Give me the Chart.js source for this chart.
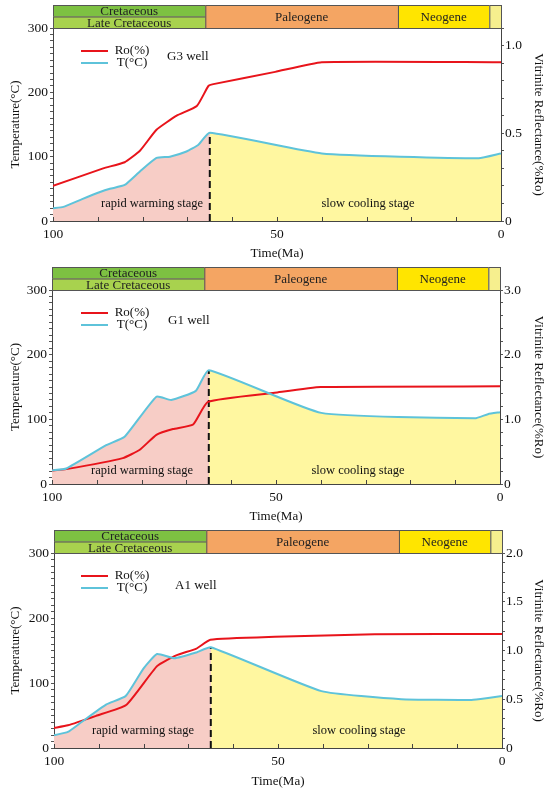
<!DOCTYPE html>
<html>
<head>
<meta charset="utf-8">
<script src="https://cdn.jsdelivr.net/npm/chart.js@4.4.1/dist/chart.umd.min.js"></script>
<style>
  body { margin: 0; background: #fff; }
  .panel { position: absolute; left: 0; width: 550px; }
</style>
</head>
<body>
<div class="panel" style="top:0px"><canvas id="g3" width="550" height="262"></canvas></div>
<div class="panel" style="top:260px"><canvas id="g1" width="550" height="265"></canvas></div>
<div class="panel" style="top:525px"><canvas id="a1" width="550" height="268"></canvas></div>
<script>
// geological time scale along the top (Ma)
const periodNames = ['Cretaceous', 'Late Cretaceous', 'Paleogene', 'Neogene', ''];
const periodStart = [100, 100, 66, 23, 2.6];
const periodEnd   = [66, 66, 23, 2.6, 0];

// age where warming switches to cooling
const turnAge = 65;

// G3 well
const g3TempAge = [100, 97.7, 93.5, 89.5, 87.3, 84, 80.6, 76.9, 73.9, 70.2, 67.6, 65, 40, 5, 0];
const g3Temp    = [20, 22, 34, 45, 50, 56, 77, 98, 100, 108, 118, 137, 105, 97.5, 105];
const g3RoAge   = [100, 88.8, 84, 80.6, 76.9, 72.4, 67.9, 65.3, 64.2, 50.4, 40, 0];
const g3Ro      = [0.20, 0.30, 0.335, 0.40, 0.52, 0.60, 0.655, 0.77, 0.78, 0.85, 0.905, 0.905];

// G1 well
const g1TempAge = [100, 96.8, 87.9, 83.8, 76.7, 73.4, 67.9, 65, 39.9, 5.6, 2.7, 0];
const g1Temp    = [21, 24, 60, 73, 135, 130, 144, 176, 110, 101.5, 108, 111];
const g1RoAge   = [100, 96.8, 84.2, 80.4, 76.7, 73, 68.5, 65.2, 50.3, 40, 0];
const g1Ro      = [0.21, 0.23, 0.40, 0.53, 0.76, 0.85, 0.92, 1.27, 1.41, 1.50, 1.51];

// A1 well
const a1TempAge = [100, 96.9, 94.3, 88.3, 84, 80, 77, 73.1, 68.2, 65, 40.3, 22.5, 6.8, 3.1, 0];
const a1Temp    = [19.6, 24.7, 37.6, 67, 80, 122.5, 144.6, 138, 147, 155, 87.5, 75, 74, 77, 80];
const a1RoAge   = [100, 96.9, 90.6, 83.9, 77, 72.7, 68.2, 65.1, 50.7, 28.4, 0];
const a1Ro      = [0.206, 0.233, 0.33, 0.44, 0.84, 0.95, 1.02, 1.11, 1.14, 1.167, 1.17];

const FONT = '"Liberation Serif", "Times New Roman", serif';
const periodFill = ['#7dc142', '#a8d24e', '#f4a563', '#ffe500', '#f6ef8e'];
const RED = '#e8141b';
const CYAN = '#5ec3da';
const PINK = '#f7cdc6';
const YELLOW = '#fff7a0';

function toPoints(xs, ys) {
    return xs.map((x, i) => ({ x: x, y: ys[i] }));
}

// header with the geological periods, drawn above the plot
const periodPlugin = {
    id: 'periods',
    afterDraw(chart) {
        const ctx = chart.ctx;
        const xs = chart.scales.x;
        const area = chart.chartArea;
        const h = 23;
        const top = area.top - h;
        ctx.save();
        ctx.lineWidth = 1;
        ctx.strokeStyle = '#555';
        ctx.font = '13px ' + FONT;
        ctx.textAlign = 'center';
        ctx.textBaseline = 'middle';
        for (let i = 0; i < periodNames.length; i++) {
            const x1 = xs.getPixelForValue(periodStart[i]);
            const x2 = xs.getPixelForValue(periodEnd[i]);
            let y = top, hh = h;
            if (i === 0) { hh = h / 2; }
            if (i === 1) { y = top + h / 2; hh = h / 2; }
            ctx.fillStyle = periodFill[i];
            ctx.fillRect(x1, y, x2 - x1, hh);
            ctx.strokeRect(x1 + 0.5, y + 0.5, x2 - x1, hh);
            ctx.fillStyle = '#222';
            ctx.fillText(periodNames[i], (x1 + x2) / 2, y + hh / 2 + 1);
        }
        ctx.restore();
    }
};

// legend, well name, stage labels and inward x ticks
const notesPlugin = {
    id: 'notes',
    afterDraw(chart, args, opts) {
        const ctx = chart.ctx;
        const area = chart.chartArea;
        const xs = chart.scales.x;
        ctx.save();
        // x ticks point into the plot
        ctx.strokeStyle = '#444';
        ctx.lineWidth = 1;
        xs.ticks.forEach(t => {
            const px = Math.round(xs.getPixelForValue(t.value)) + 0.5;
            ctx.beginPath();
            ctx.moveTo(px, area.bottom);
            ctx.lineTo(px, area.bottom - 4);
            ctx.stroke();
        });
        // legend
        const ly = area.top + 23;
        ctx.lineWidth = 2;
        ctx.strokeStyle = RED;
        ctx.beginPath(); ctx.moveTo(81, ly); ctx.lineTo(108, ly); ctx.stroke();
        ctx.strokeStyle = CYAN;
        ctx.beginPath(); ctx.moveTo(81, ly + 12); ctx.lineTo(108, ly + 12); ctx.stroke();
        ctx.fillStyle = '#111';
        ctx.font = '13px ' + FONT;
        ctx.textAlign = 'center';
        ctx.textBaseline = 'middle';
        ctx.fillText('Ro(%)', 132, ly);
        ctx.fillText('T(°C)', 132, ly + 12);
        ctx.textAlign = 'left';
        ctx.fillText(opts.well, opts.wellX, area.top + opts.wellDy);
        ctx.textAlign = 'center';
        ctx.font = '12.5px ' + FONT;
        ctx.fillText('rapid warming stage', opts.rapidX, area.bottom - opts.stageDy);
        ctx.fillText('slow cooling stage', opts.slowX, area.bottom - opts.stageDy);
        ctx.restore();
    }
};

function isMultiple(v, step) {
    return Math.abs(v / step - Math.round(v / step)) < 1e-6;
}

function makeChart(id, tempAge, temp, roAge, ro, right, notes) {
    const peak = temp[tempAge.indexOf(turnAge)];
    new Chart(document.getElementById(id), {
        type: 'line',
        data: {
            datasets: [
                {
                    label: 'T(°C)',
                    data: toPoints(tempAge, temp),
                    yAxisID: 'y',
                    borderColor: CYAN,
                    borderWidth: 2,
                    tension: 0.15,
                    fill: 'origin',
                    // pink before the turn, yellow after it
                    backgroundColor: function(context) {
                        const chart = context.chart;
                        const area = chart.chartArea;
                        if (!area) return PINK;
                        const p = chart.scales.x.getPixelForValue(turnAge);
                        const f = (p - area.left) / (area.right - area.left);
                        const g = chart.ctx.createLinearGradient(area.left, 0, area.right, 0);
                        g.addColorStop(0, PINK);
                        g.addColorStop(f, PINK);
                        g.addColorStop(f, YELLOW);
                        g.addColorStop(1, YELLOW);
                        return g;
                    },
                    pointRadius: 0
                },
                {
                    label: 'Ro(%)',
                    data: toPoints(roAge, ro),
                    yAxisID: 'y1',
                    borderColor: RED,
                    borderWidth: 2,
                    tension: 0.15,
                    fill: false,
                    pointRadius: 0
                },
                {
                    label: 'turn',
                    data: [{ x: turnAge, y: 0 }, { x: turnAge, y: peak }],
                    yAxisID: 'y',
                    borderColor: '#111',
                    borderWidth: 2,
                    borderDash: [7, 4],
                    fill: false,
                    pointRadius: 0
                }
            ]
        },
        options: {
            responsive: false,
            animation: false,
            layout: { padding: { top: notes.top, left: 0, right: 0, bottom: 0 } },
            plugins: {
                legend: { display: false },
                tooltip: { enabled: false },
                filler: { drawTime: 'beforeDatasetsDraw' },
                notes: notes
            },
            scales: {
                x: {
                    type: 'linear',
                    reverse: true,
                    min: 0,
                    max: 100,
                    afterFit: s => { s.height = notes.bottomH; },
                    grid: { display: false, drawTicks: false, tickLength: 0 },
                    border: { color: '#444', width: 1 },
                    ticks: {
                        stepSize: 10,
                        autoSkip: false,
                        maxRotation: 0,
                        padding: 5,
                        color: '#111',
                        font: { family: FONT, size: 13.5 },
                        callback: v => isMultiple(v, 50) ? String(v) : ''
                    },
                    title: {
                        display: true,
                        text: 'Time(Ma)',
                        color: '#111',
                        font: { family: FONT, size: 13 },
                        padding: { top: 0, bottom: notes.titlePad }
                    }
                },
                y: {
                    position: 'left',
                    min: 0,
                    max: 300,
                    afterFit: s => { s.width = notes.leftW; },
                    grid: { drawOnChartArea: false, tickLength: 3, color: '#555' },
                    border: { color: '#444', width: 1 },
                    ticks: {
                        stepSize: 10,
                        autoSkip: false,
                        padding: 2,
                        color: '#111',
                        font: { family: FONT, size: 13.5 },
                        callback: v => isMultiple(v, 100) ? String(v) : ''
                    },
                    title: {
                        display: true,
                        text: 'Temperature(°C)',
                        color: '#111',
                        font: { family: FONT, size: 13 },
                        padding: { top: 8, bottom: 0 }
                    }
                },
                y1: {
                    position: 'right',
                    min: 0,
                    max: right.max,
                    afterFit: s => { s.width = 550 - notes.rightX; },
                    grid: { drawOnChartArea: false, tickLength: 3, color: '#555' },
                    border: { color: '#444', width: 1 },
                    ticks: {
                        stepSize: right.minor,
                        autoSkip: false,
                        padding: 1,
                        color: '#111',
                        font: { family: FONT, size: 13.5 },
                        callback: v => isMultiple(v, right.major) ? (v === 0 ? '0' : v.toFixed(1)) : ''
                    },
                    title: {
                        display: true,
                        text: 'Vitrinite Reflectance(%Ro)',
                        color: '#111',
                        font: { family: FONT, size: 13 },
                        padding: { top: 4, bottom: 0 }
                    }
                }
            }
        },
        plugins: [periodPlugin, notesPlugin]
    });
}

makeChart('g3', g3TempAge, g3Temp, g3RoAge, g3Ro,
    { max: 1.1, major: 0.5, minor: 0.1 },
    { top: 28, bottomH: 41, leftW: 53, rightX: 501, titlePad: 1, well: 'G3 well', wellX: 167, wellDy: 29,
      rapidX: 152, slowX: 368, stageDy: 17 });

makeChart('g1', g1TempAge, g1Temp, g1RoAge, g1Ro,
    { max: 3.0, major: 1.0, minor: 0.2 },
    { top: 30, bottomH: 41, leftW: 52, rightX: 500, titlePad: 0.5, well: 'G1 well', wellX: 168, wellDy: 31,
      rapidX: 142, slowX: 358, stageDy: 13 });

makeChart('a1', a1TempAge, a1Temp, a1RoAge, a1Ro,
    { max: 2.0, major: 0.5, minor: 0.1 },
    { top: 28, bottomH: 45, leftW: 54, rightX: 502, titlePad: 3.5, well: 'A1 well', wellX: 175, wellDy: 33,
      rapidX: 143, slowX: 359, stageDy: 17 });
</script>
</body>
</html>
